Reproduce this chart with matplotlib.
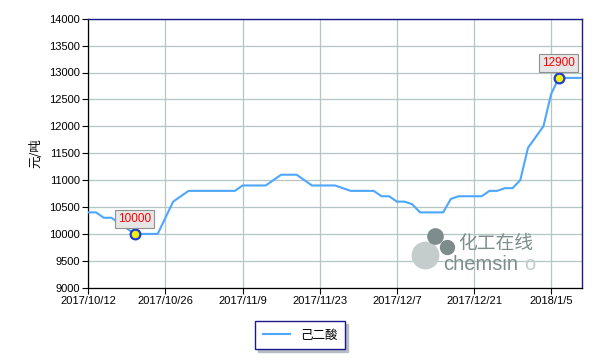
import numpy as np
import matplotlib
matplotlib.use("Agg")
import matplotlib.pyplot as plt

# price series, one value per trading day from 2017/10/12
prices = [10400, 10400, 10300, 10300, 10200, 10100, 10000, 10000, 10000, 10000,
          10300, 10600, 10700, 10800, 10800, 10800, 10800, 10800, 10800, 10800,
          10900, 10900, 10900, 10900, 11000, 11100, 11100, 11100, 11000, 10900,
          10900, 10900, 10900, 10850, 10800, 10800, 10800, 10800, 10700, 10700,
          10600, 10600, 10550, 10400, 10400, 10400, 10400, 10650, 10700, 10700,
          10700, 10700, 10800, 10800, 10850, 10850, 11000, 11600, 11800, 12000,
          12600, 12900, 12900, 12900, 12900]
tick_pos = [0, 10, 20, 30, 40, 50, 60]
tick_labels = ["2017/10/12", "2017/10/26", "2017/11/9", "2017/11/23",
               "2017/12/7", "2017/12/21", "2018/1/5"]
series_name = "己二酸"
y_label = "元/吨"

cjk = ["Noto Sans CJK SC", "DejaVu Sans"]
plt.rcParams["font.family"] = ["Liberation Sans", "Noto Sans CJK SC", "DejaVu Sans"]

fig = plt.figure(figsize=(6, 3.6), dpi=100)
ax = fig.add_axes([88.3/600, 1-287.7/360, (582-88.3)/600, (287.7-18.7)/360])

x = np.arange(len(prices))
line_c = "#4da6ff"
ax.plot(x, prices, color=line_c, lw=1.5, zorder=3, label=series_name)

# min / max markers with value boxes
i_min = int(np.argmin(prices))
i_max = int(np.argmax(prices))
for i in (i_min, i_max):
    ax.plot(i, prices[i], "o", ms=7, mfc="#f2f20a", mec="#1f3fd0", mew=1.6, zorder=5)
    ax.annotate(str(prices[i]), (i, prices[i]), xytext=(0, 11), textcoords="offset points",
                ha="center", va="center", fontsize=8.5, color="red", zorder=6,
                bbox=dict(boxstyle="square,pad=0.25", fc="#e6e6e6", ec="#909090", lw=0.8))

ax.set_xlim(0, len(prices) - 1)
ax.set_ylim(9000, 14000)
ax.set_yticks(np.arange(9000, 14001, 500))
ax.set_xticks(tick_pos)
ax.set_xticklabels(tick_labels)
ax.tick_params(labelsize=8, length=4, width=0.8, color="black", pad=2)
ax.grid(True, color="#b4c6c6", lw=0.9, zorder=1)

for s in ("left", "bottom"):
    ax.spines[s].set_color("black")
    ax.spines[s].set_linewidth(0.9)
for s in ("top", "right"):
    ax.spines[s].set_color("#1a1a8c")
    ax.spines[s].set_linewidth(1.0)

ax.set_ylabel(y_label, fontsize=9, family=cjk, labelpad=5)

# watermark
wm = "#7f8c8c"
ax.plot([425/600], [1-255/360], "o", ms=19, color="#c4cccc", transform=fig.transFigure, zorder=2)
ax.plot([435/600], [1-236/360], "o", ms=11, color=wm, transform=fig.transFigure, zorder=2)
ax.plot([447/600], [1-247/360], "o", ms=10, color=wm, transform=fig.transFigure, zorder=2)
fig.text(458/600, 1-243/360, "化工在线", fontsize=13.5, color=wm, va="center", ha="left", family=cjk)
fig.text(443/600, 1-264/360, "chemsin", fontsize=14.5, color=wm, va="center", ha="left")
fig.text(524/600, 1-264/360, "o", fontsize=14.5, color="#c4cccc", va="center", ha="left")

leg = fig.legend(loc="center", bbox_to_anchor=(300/600, 1-335/360), frameon=True,
                 fancybox=False, shadow={"color": "#b8bcc4", "alpha": 1}, edgecolor="#1a1a8c",
                 handlelength=2.2, borderpad=0.6, prop={"family": cjk, "size": 9})
leg.get_frame().set_linewidth(1.0)

fig.savefig("out.png", dpi=100)
